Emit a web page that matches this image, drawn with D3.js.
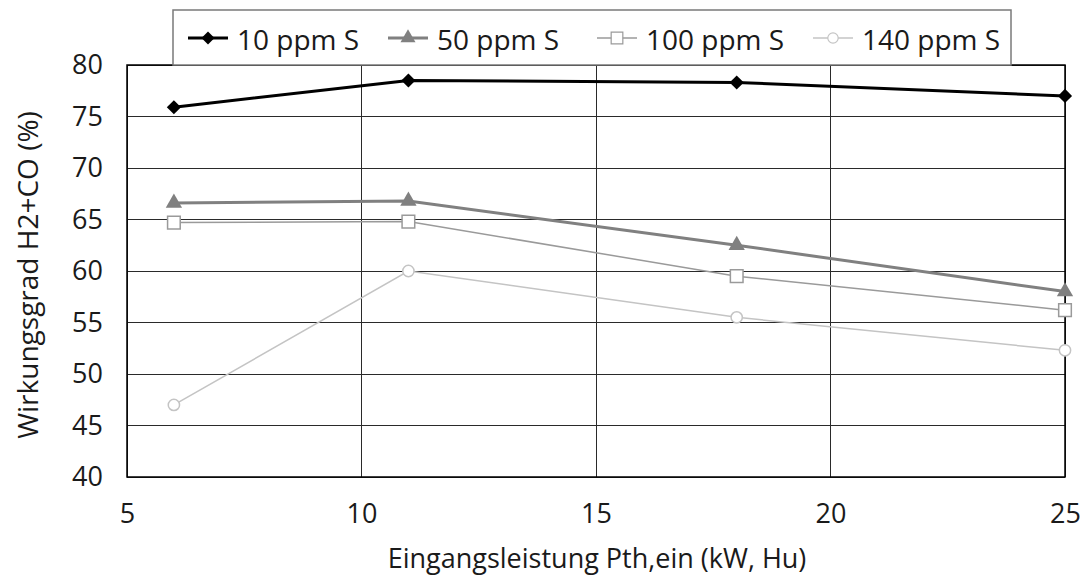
<!DOCTYPE html>
<meta charset="utf-8" />
<script src="https://d3js.org/d3.v7.min.js"></script>
<style>
  body { margin: 0; background: #fff; }
  text { font-family: "Open Sans", "Liberation Sans", sans-serif; fill: #1a1a1a; }
</style>
<div id="chart"></div>
<script>
  // data
  const xValues = [6, 11, 18, 25];
  const s10 = [75.9, 78.5, 78.3, 77.0];
  const s50 = [66.6, 66.8, 62.5, 58.0];
  const s100 = [64.7, 64.8, 59.5, 56.2];
  const s140 = [47.0, 60.0, 55.5, 52.3];
  const seriesNames = ["10 ppm S", "50 ppm S", "100 ppm S", "140 ppm S"];
  const xTicks = [5, 10, 15, 20, 25];
  const yTicks = [40, 45, 50, 55, 60, 65, 70, 75, 80];

  const W = 1085, H = 578;
  const margin = { top: 65, left: 127 };
  const width = 1065 - margin.left, height = 477 - margin.top;

  const svg = d3.select("#chart").append("svg")
    .attr("width", W).attr("height", H);
  const g = svg.append("g").attr("transform", `translate(${margin.left},${margin.top})`);

  const x = d3.scaleLinear().domain([5, 25]).range([0, width]);
  const y = d3.scaleLinear().domain([40, 80]).range([height, 0]);

  // grid
  g.append("g").selectAll("line").data(yTicks).join("line")
    .attr("x1", 0).attr("x2", width)
    .attr("y1", d => y(d)).attr("y2", d => y(d))
    .attr("stroke", "#2a2a2a").attr("stroke-width", 1).attr("shape-rendering", "crispEdges");
  g.append("g").selectAll("line").data(xTicks).join("line")
    .attr("y1", 0).attr("y2", height)
    .attr("x1", d => x(d)).attr("x2", d => x(d))
    .attr("stroke", "#2a2a2a").attr("stroke-width", 1).attr("shape-rendering", "crispEdges");
  g.append("rect").attr("width", width).attr("height", height)
    .attr("fill", "none").attr("stroke", "#000").attr("stroke-width", 1.5);

  // axes
  const xAxis = g.append("g").attr("transform", `translate(0,${height})`)
    .call(d3.axisBottom(x).tickValues(xTicks).tickSize(0).tickPadding(27));
  xAxis.select(".domain").remove();
  xAxis.selectAll("text").style("font-size", "27px").attr("fill", "#1a1a1a");
  const yAxis = g.append("g")
    .call(d3.axisLeft(y).tickValues(yTicks).tickSize(0).tickPadding(24));
  yAxis.select(".domain").remove();
  yAxis.selectAll("text").style("font-size", "27px").attr("fill", "#1a1a1a");

  svg.append("text").attr("x", 597).attr("y", 568).attr("text-anchor", "middle")
    .style("font-size", "27px").text("Eingangsleistung Pth,ein (kW, Hu)");
  svg.append("text").attr("transform", "translate(38,275) rotate(-90)")
    .attr("text-anchor", "middle").style("font-size", "28px").text("Wirkungsgrad H2+CO (%)");

  const series = [
    { name: seriesNames[0], values: s10, color: "#000", width: 3, sym: d3.symbolSquare, rot: 45, size: 100, fill: "#000" },
    { name: seriesNames[1], values: s50, color: "#808080", width: 3, sym: d3.symbolTriangle, rot: 0, size: 115, fill: "#808080" },
    { name: seriesNames[2], values: s100, color: "#9a9a9a", width: 1.5, sym: d3.symbolSquare, rot: 0, size: 160, fill: "#fff" },
    { name: seriesNames[3], values: s140, color: "#c4c4c4", width: 1.5, sym: d3.symbolCircle, rot: 0, size: 100, fill: "#fff" }
  ];

  const line = d3.line().x((d, i) => x(xValues[i])).y(d => y(d));
  series.forEach(s => {
    g.append("path").datum(s.values).attr("d", line)
      .attr("fill", "none").attr("stroke", s.color).attr("stroke-width", s.width);
    g.append("g").selectAll("path").data(s.values).join("path")
      .attr("transform", (d, i) => `translate(${x(xValues[i])},${y(d)}) rotate(${s.rot})`)
      .attr("d", d3.symbol().type(s.sym).size(s.size))
      .attr("fill", s.fill).attr("stroke", s.color).attr("stroke-width", s.fill === "#fff" ? 1.5 : 0);
  });

  // legend
  const leg = svg.append("g").attr("transform", "translate(173,10)");
  leg.append("rect").attr("width", 838).attr("height", 55)
    .attr("fill", "#fff").attr("stroke", "#7a7a7a").attr("stroke-width", 1.5);
  const legX = [15, 215, 424, 640];
  series.forEach((s, i) => {
    const gi = leg.append("g").attr("transform", `translate(${legX[i]},28)`);
    gi.append("line").attr("x1", 0).attr("x2", 40).attr("stroke", s.color).attr("stroke-width", s.width);
    gi.append("path").attr("transform", `translate(20,0) rotate(${s.rot})`)
      .attr("d", d3.symbol().type(s.sym).size(s.size * 0.85))
      .attr("fill", s.fill).attr("stroke", s.color).attr("stroke-width", s.fill === "#fff" ? 1.2 : 0);
    gi.append("text").attr("x", 49).attr("y", 12).style("font-size", "28px").text(s.name);
  });
</script>
